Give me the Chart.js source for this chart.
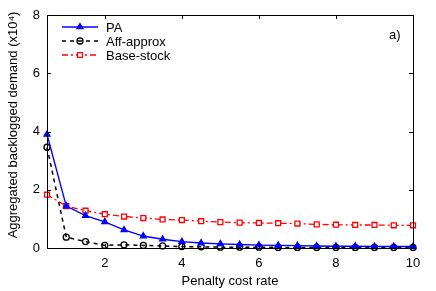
<!DOCTYPE html>
<html><head><meta charset="utf-8">
<script src="https://cdn.jsdelivr.net/npm/chart.js@4/dist/chart.umd.min.js"></script>
<style>html,body{margin:0;padding:0;background:#fff}#wrap{width:436px;height:291px}</style>
</head><body><div id="wrap"><canvas id="c" width="436" height="291"></canvas></div>
<script>
const penaltyRates = [0.5,1,1.5,2,2.5,3,3.5,4,4.5,5,5.5,6,6.5,7,7.5,8,8.5,9,9.5,10];
const paValues = [3.9,1.44,1.11,0.90,0.62,0.41,0.30,0.22,0.17,0.14,0.12,0.10,0.09,0.08,0.07,0.06,0.06,0.05,0.05,0.05];
const affApproxValues = [3.46,0.37,0.22,0.09,0.11,0.09,0.07,0.05,0.04,0.03,0.03,0.03,0.02,0.02,0.02,0.02,0.02,0.02,0.02,0.02];
const baseStockValues = [1.83,1.44,1.28,1.16,1.08,1.03,0.98,0.96,0.92,0.89,0.87,0.86,0.85,0.84,0.81,0.80,0.79,0.79,0.78,0.78];
const xTickValues = [2,4,6,8,10];
const yTickValues = [0,2,4,6,8];
const seriesNames = ['PA','Aff-approx','Base-stock'];
const yTitle = 'Aggregated backlogged demand (x10⁴)';
const FONT = 'Liberation Sans, Arial, Helvetica, sans-serif';

function pts(vals){ return penaltyRates.map((x,i)=>({x:x,y:vals[i]})); }

const boxPlugin = {
  id:'box',
  afterDraw(chart){
    const ctx = chart.ctx, a = chart.chartArea;
    const xs = chart.scales.x, ys = chart.scales.y;
    ctx.save();
    ctx.strokeStyle = '#000'; ctx.lineWidth = 1; ctx.setLineDash([]);
    ctx.strokeRect(Math.round(a.left)+0.5, Math.round(a.top)+0.5, Math.round(a.right-a.left), Math.round(a.bottom-a.top));
    const tl = 4;
    ctx.beginPath();
    xTickValues.forEach(v=>{ const p = Math.round(xs.getPixelForValue(v))+0.5;
      ctx.moveTo(p,a.bottom); ctx.lineTo(p,a.bottom-tl); ctx.moveTo(p,a.top); ctx.lineTo(p,a.top+tl); });
    yTickValues.forEach(v=>{ const p = Math.round(ys.getPixelForValue(v))+0.5;
      ctx.moveTo(a.left,p); ctx.lineTo(a.left+tl,p); ctx.moveTo(a.right,p); ctx.lineTo(a.right-tl,p); });
    ctx.stroke();
    // y title
    ctx.save();
    ctx.translate(13, 125); ctx.rotate(-Math.PI/2);
    ctx.fillStyle='#000'; ctx.font='13px '+FONT; ctx.textAlign='center'; ctx.textBaseline='middle';
    ctx.fillText(yTitle,0,0);
    ctx.restore();
    // annotation
    ctx.fillStyle = '#000'; ctx.font = '13px '+FONT; ctx.textAlign='left'; ctx.textBaseline='middle';
    ctx.fillText('a)', a.right-24, a.top+20);
    // legend
    const ds = chart.data.datasets;
    const x0 = a.left+15, x1 = a.left+51, tx = a.left+59;
    const rows = [a.top+12, a.top+26, a.top+40];
    ds.forEach((d,i)=>{
      const y = rows[i];
      ctx.strokeStyle = d.borderColor; ctx.lineWidth = d.borderWidth; ctx.setLineDash(d.borderDash||[]);
      ctx.beginPath(); ctx.moveTo(x0,y); ctx.lineTo(x1,y); ctx.stroke();
      ctx.setLineDash([]);
      ctx.fillStyle = d.pointBackgroundColor; ctx.strokeStyle = d.pointBorderColor; ctx.lineWidth = d.pointBorderWidth;
      Chart.helpers.drawPoint(ctx,{pointStyle:d.pointStyle,radius:d.pointRadius,borderWidth:d.pointBorderWidth},(x0+x1)/2,y);
      ctx.fillStyle = '#000'; ctx.font = '13px '+FONT; ctx.textAlign='left'; ctx.textBaseline='middle';
      ctx.fillText(d.label, tx, y+1);
    });
    ctx.restore();
  }
};

new Chart(document.getElementById('c'),{
  type:'line',
  data:{datasets:[
    {label:seriesNames[0], data:pts(paValues), borderColor:'#0000ff', borderWidth:1.4, pointStyle:'triangle', pointRadius:3.5,
     pointBackgroundColor:'#0000ff', pointBorderColor:'#0000ff', pointBorderWidth:1.2, tension:0, fill:false, clip:false},
    {label:seriesNames[1], data:pts(affApproxValues), borderColor:'#000000', borderWidth:1.5, borderDash:[4,4], pointStyle:'circle', pointRadius:3,
     pointBackgroundColor:'rgba(255,255,255,0)', pointBorderColor:'#000000', pointBorderWidth:1.3, tension:0, fill:false, clip:false},
    {label:seriesNames[2], data:pts(baseStockValues), borderColor:'#ff0000', borderWidth:1.3, borderDash:[6,3,2,3], pointStyle:'rect', pointRadius:3.5,
     pointBackgroundColor:'#ffffff', pointBorderColor:'#ff0000', pointBorderWidth:1.3, tension:0, fill:false, clip:false}
  ]},
  options:{
    responsive:false, animation:false, devicePixelRatio:1,
    layout:{padding:{top:15,right:23,left:0,bottom:0}},
    plugins:{legend:{display:false}, tooltip:{enabled:false}},
    scales:{
      x:{type:'linear', min:0.5, max:10,
        afterBuildTicks(s){ s.ticks = xTickValues.map(v=>({value:v})); },
        grid:{display:false, drawTicks:false}, border:{display:false},
        ticks:{color:'#000', font:{family:FONT,size:13}, padding:8, maxRotation:0},
        title:{display:true, text:'Penalty cost rate', color:'#000', font:{family:FONT,size:13}, padding:{top:4,bottom:2}},
        afterFit(s){ s.height = 43; }
      },
      y:{type:'linear', min:0, max:8,
        afterBuildTicks(s){ s.ticks = yTickValues.map(v=>({value:v})); },
        grid:{display:false, drawTicks:false}, border:{display:false},
        ticks:{color:'#000', font:{family:FONT,size:13}, padding:7},
        title:{display:false},
        afterFit(s){ s.width = 47; }
      }
    }
  },
  plugins:[boxPlugin]
});
</script></body></html>
